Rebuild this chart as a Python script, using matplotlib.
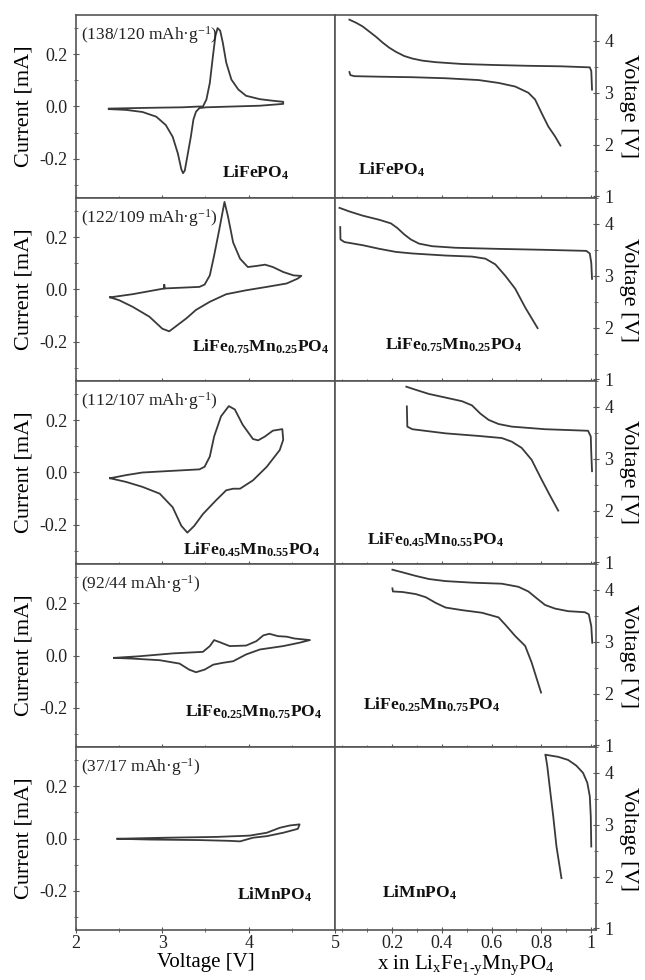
import numpy as np
import matplotlib
matplotlib.use('Agg')
import matplotlib.pyplot as plt
from matplotlib.ticker import MultipleLocator

plt.rcParams['font.family'] = ['Liberation Serif', 'DejaVu Serif']
plt.rcParams['mathtext.fontset'] = 'custom'
plt.rcParams['mathtext.rm'] = 'Liberation Serif'
plt.rcParams['mathtext.it'] = 'Liberation Serif:italic'
plt.rcParams['mathtext.bf'] = 'Liberation Serif:bold'

# Cyclic voltammetry (voltage V, current mA)
cv_v = [
    [2.38, 2.85, 3.24, 3.43, 3.47, 3.51, 3.55, 3.585, 3.615, 3.64, 3.67, 3.70, 3.74, 3.80, 3.88, 3.97, 4.13,
     4.28, 4.40, 4.40, 4.13, 3.82, 3.51, 3.43, 3.39, 3.36, 3.33, 3.29, 3.26, 3.24, 3.22, 3.18, 3.12, 3.04,
     2.93, 2.77, 2.58, 2.38],
    [2.395, 2.655, 3.023, 3.023, 3.023, 3.43, 3.49, 3.55, 3.60, 3.66, 3.72, 3.76, 3.82, 3.90, 3.99, 4.09, 4.19,
     4.28, 4.40, 4.52, 4.61, 4.57, 4.44, 4.21, 3.97, 3.74, 3.55, 3.39, 3.28, 3.16, 3.08, 3.00, 2.85, 2.655,
     2.50, 2.395],
    [2.395, 2.58, 2.77, 3.04, 3.43, 3.49, 3.55, 3.60, 3.68, 3.77, 3.84, 3.93, 4.05, 4.11, 4.19, 4.28, 4.39,
     4.40, 4.36, 4.21, 4.05, 3.90, 3.82, 3.74, 3.62, 3.47, 3.37, 3.29, 3.22, 3.12, 2.97, 2.77, 2.58, 2.395],
    [2.44, 2.73, 3.12, 3.47, 3.55, 3.60, 3.68, 3.78, 3.97, 4.09, 4.17, 4.24, 4.34, 4.44, 4.53, 4.71,
     4.59, 4.40, 4.13, 3.97, 3.82, 3.70, 3.59, 3.49, 3.39, 3.31, 3.20, 2.97, 2.66, 2.44],
    [2.48, 3.04, 3.62, 4.01, 4.21, 4.36, 4.48, 4.59,
     4.57, 4.40, 4.21, 4.05, 3.90, 3.78, 3.43, 2.85, 2.48],
]
cv_i = [
    [-0.008, -0.005, -0.003, 0.0, 0.0, 0.026, 0.09, 0.19, 0.27, 0.30, 0.29, 0.245, 0.168, 0.103, 0.065, 0.041,
     0.028, 0.022, 0.018, 0.010, 0.003, 0.0, -0.003, -0.006, -0.02, -0.05, -0.116, -0.19, -0.245, -0.255,
     -0.24, -0.18, -0.116, -0.071, -0.039, -0.021, -0.013, -0.01],
    [-0.030, -0.018, 0.004, 0.018, 0.004, 0.010, 0.019, 0.054, 0.13, 0.23, 0.335, 0.28, 0.18, 0.118, 0.086,
     0.09, 0.095, 0.086, 0.067, 0.054, 0.052, 0.042, 0.023, 0.010, -0.003, -0.018, -0.047, -0.078, -0.11,
     -0.14, -0.16, -0.15, -0.104, -0.066, -0.041, -0.030],
    [-0.022, -0.010, 0.0, 0.005, 0.012, 0.022, 0.061, 0.138, 0.215, 0.254, 0.241, 0.183, 0.128, 0.123, 0.138,
     0.160, 0.166, 0.125, 0.086, 0.022, -0.030, -0.062, -0.062, -0.068, -0.107, -0.159, -0.204, -0.23,
     -0.204, -0.133, -0.081, -0.055, -0.036, -0.022],
    [-0.009, -0.003, 0.008, 0.014, 0.036, 0.059, 0.049, 0.036, 0.038, 0.055, 0.077, 0.083, 0.074, 0.072,
     0.065, 0.059, 0.049, 0.036, 0.023, 0.004, -0.022, -0.028, -0.035, -0.054, -0.064, -0.054, -0.031,
     -0.018, -0.012, -0.009],
    [-0.001, 0.003, 0.006, 0.011, 0.022, 0.041, 0.050, 0.054,
     0.037, 0.022, 0.009, 0.003, -0.011, -0.009, -0.006, -0.004, -0.001],
]

# Charge / discharge curves (x in LixFe1-yMnyPO4, voltage V)
ch_x = [
    [0.028, 0.055, 0.081, 0.108, 0.135, 0.161, 0.188, 0.215, 0.248, 0.281, 0.321, 0.375, 0.481, 0.615, 0.748,
     0.881, 0.995, 1.001, 1.004],
    [-0.012, 0.028, 0.081, 0.148, 0.195, 0.221, 0.248, 0.275, 0.308, 0.361, 0.455, 0.615, 0.815, 0.981,
     0.995, 1.001, 1.004],
    [0.257, 0.295, 0.348, 0.415, 0.481, 0.521, 0.555, 0.588, 0.628, 0.681, 0.815, 0.988, 0.999, 1.001, 1.004],
    [0.201, 0.241, 0.295, 0.348, 0.415, 0.521, 0.641, 0.708, 0.748, 0.781, 0.815, 0.855, 0.908, 0.975, 0.991,
     1.001, 1.005],
    [0.817, 0.868, 0.908, 0.941, 0.968, 0.985, 0.995, 0.999, 1.001],
]
ch_v = [
    [4.41, 4.35, 4.28, 4.18, 4.08, 3.97, 3.87, 3.79, 3.71, 3.66, 3.62, 3.59, 3.555, 3.535, 3.52, 3.51, 3.49,
     3.42, 3.06],
    [4.31, 4.24, 4.16, 4.08, 4.01, 3.92, 3.80, 3.70, 3.62, 3.57, 3.54, 3.52, 3.50, 3.48, 3.43, 3.25, 2.94],
    [4.39, 4.33, 4.25, 4.18, 4.11, 4.03, 3.87, 3.75, 3.67, 3.62, 3.57, 3.54, 3.43, 3.11, 2.76],
    [4.39, 4.34, 4.27, 4.21, 4.17, 4.14, 4.12, 4.06, 3.97, 3.84, 3.71, 3.64, 3.59, 3.57, 3.53, 3.30, 2.98],
    [4.35, 4.31, 4.25, 4.14, 4.00, 3.81, 3.55, 3.16, 2.58],
]
dis_x = [
    [0.028, 0.032, 0.048, 0.148, 0.281, 0.415, 0.548, 0.628, 0.695, 0.748, 0.775, 0.801, 0.828, 0.855, 0.877],
    [-0.009, -0.008, 0.008, 0.081, 0.148, 0.215, 0.281, 0.415, 0.521, 0.575, 0.615, 0.655, 0.695, 0.735,
     0.785],
    [0.259, 0.261, 0.281, 0.348, 0.415, 0.548, 0.641, 0.681, 0.721, 0.761, 0.801, 0.835, 0.868],
    [0.201, 0.203, 0.241, 0.295, 0.335, 0.375, 0.415, 0.481, 0.561, 0.628, 0.655, 0.695, 0.735, 0.761, 0.799],
    [0.817, 0.824, 0.835, 0.848, 0.861, 0.881],
]
dis_v = [
    [3.40, 3.34, 3.32, 3.31, 3.30, 3.28, 3.245, 3.19, 3.12, 3.00, 2.87, 2.61, 2.35, 2.16, 1.98],
    [3.94, 3.70, 3.65, 3.59, 3.52, 3.46, 3.43, 3.39, 3.37, 3.33, 3.22, 3.00, 2.75, 2.39, 1.99],
    [4.01, 3.62, 3.57, 3.53, 3.49, 3.44, 3.40, 3.33, 3.21, 2.98, 2.60, 2.29, 2.00],
    [4.03, 3.97, 3.96, 3.92, 3.86, 3.75, 3.66, 3.61, 3.56, 3.47, 3.33, 3.11, 2.92, 2.60, 2.02],
    [4.34, 4.13, 3.68, 3.16, 2.58, 1.97],
]

capacities = ['(138/120 mAh·g$^{-1}$)', '(122/109 mAh·g$^{-1}$)', '(112/107 mAh·g$^{-1}$)',
              '(92/44 mAh·g$^{-1}$)', '(37/17 mAh·g$^{-1}$)']
compounds = [r'$\mathbf{LiFePO_4}$', r'$\mathbf{LiFe_{0.75}Mn_{0.25}PO_4}$',
             r'$\mathbf{LiFe_{0.45}Mn_{0.55}PO_4}$', r'$\mathbf{LiFe_{0.25}Mn_{0.75}PO_4}$',
             r'$\mathbf{LiMnPO_4}$']
# label positions (axes fraction, baseline) for left and right panels
comp_left = [(0.564, 0.11), (0.448, 0.158), (0.413, 0.049), (0.421, 0.164), (0.622, 0.164)]
comp_right = [(0.088, 0.126), (0.19, 0.169), (0.123, 0.104), (0.107, 0.202), (0.18, 0.175)]

W, H = 645, 980
fig = plt.figure(figsize=(W / 100, H / 100), dpi=100)
line_c = '#3a3a3a'
spine_c = '#555555'
top, ph = 15, 183

for k in range(5):
    y_bot = 1 - (top + ph * (k + 1)) / H
    axl = fig.add_axes([76 / W, y_bot, 259 / W, ph / H])
    axr = fig.add_axes([335 / W, y_bot, 261 / W, ph / H])

    axl.plot(cv_v[k], cv_i[k], color=line_c, lw=1.3)
    axl.set_xlim(2, 5)
    axl.set_ylim(-0.35, 0.35)
    axl.xaxis.set_major_locator(MultipleLocator(1))
    axl.xaxis.set_minor_locator(MultipleLocator(0.5))
    axl.yaxis.set_minor_locator(MultipleLocator(0.1))
    axl.set_yticks([-0.2, 0.0, 0.2])
    axl.set_yticklabels(['-0.2', '0.0', '0.2'])
    axl.set_ylabel('Current [mA]', fontsize=16, labelpad=4)
    axl.text(0.02, 0.89, capacities[k], transform=axl.transAxes, fontsize=12.5,
             ha='left', va='center', color='#222222')
    axl.text(comp_left[k][0], comp_left[k][1], compounds[k], transform=axl.transAxes,
             fontsize=12.6, ha='left', va='baseline', color='#111111')

    axr.plot(ch_x[k], ch_v[k], color=line_c, lw=1.3)
    axr.plot(dis_x[k], dis_v[k], color=line_c, lw=1.3)
    axr.set_xlim(-0.03, 1.02)
    axr.set_ylim(0.97, 4.5)
    axr.xaxis.set_minor_locator(MultipleLocator(0.1))
    axr.set_xticks([0.2, 0.4, 0.6, 0.8, 1.0])
    axr.set_xticklabels(['0.2', '0.4', '0.6', '0.8', '1'])
    axr.yaxis.tick_right()
    axr.yaxis.set_label_position('right')
    axr.set_yticks([1, 2, 3, 4])
    axr.yaxis.set_minor_locator(MultipleLocator(0.5))
    axr.set_ylabel('Voltage [V]', fontsize=16, rotation=270, labelpad=18)
    axr.text(comp_right[k][0], comp_right[k][1], compounds[k], transform=axr.transAxes,
             fontsize=12.6, ha='left', va='baseline', color='#111111')

    for ax in (axl, axr):
        for s in ax.spines.values():
            s.set_color(spine_c)
            s.set_linewidth(1.2)
        ax.tick_params(which='both', direction='inout', colors=spine_c, labelcolor='#222222',
                       labelsize=13)
        ax.tick_params(which='major', length=5)
        ax.tick_params(which='minor', length=3)
    if k < 4:
        axl.tick_params(labelbottom=False)
        axr.tick_params(labelbottom=False)
    else:
        axl.tick_params(axis='x', pad=1)
        axr.tick_params(axis='x', pad=1)
        axl.set_xlabel('Voltage [V]', fontsize=15, labelpad=1)
        axr.set_xlabel(r'x in Li$_{\mathrm{x}}$Fe$_{\mathrm{1\text{-}y}}$Mn$_{\mathrm{y}}$PO$_4$',
                       fontsize=15, labelpad=1)

fig.savefig('out.png', dpi=100)
